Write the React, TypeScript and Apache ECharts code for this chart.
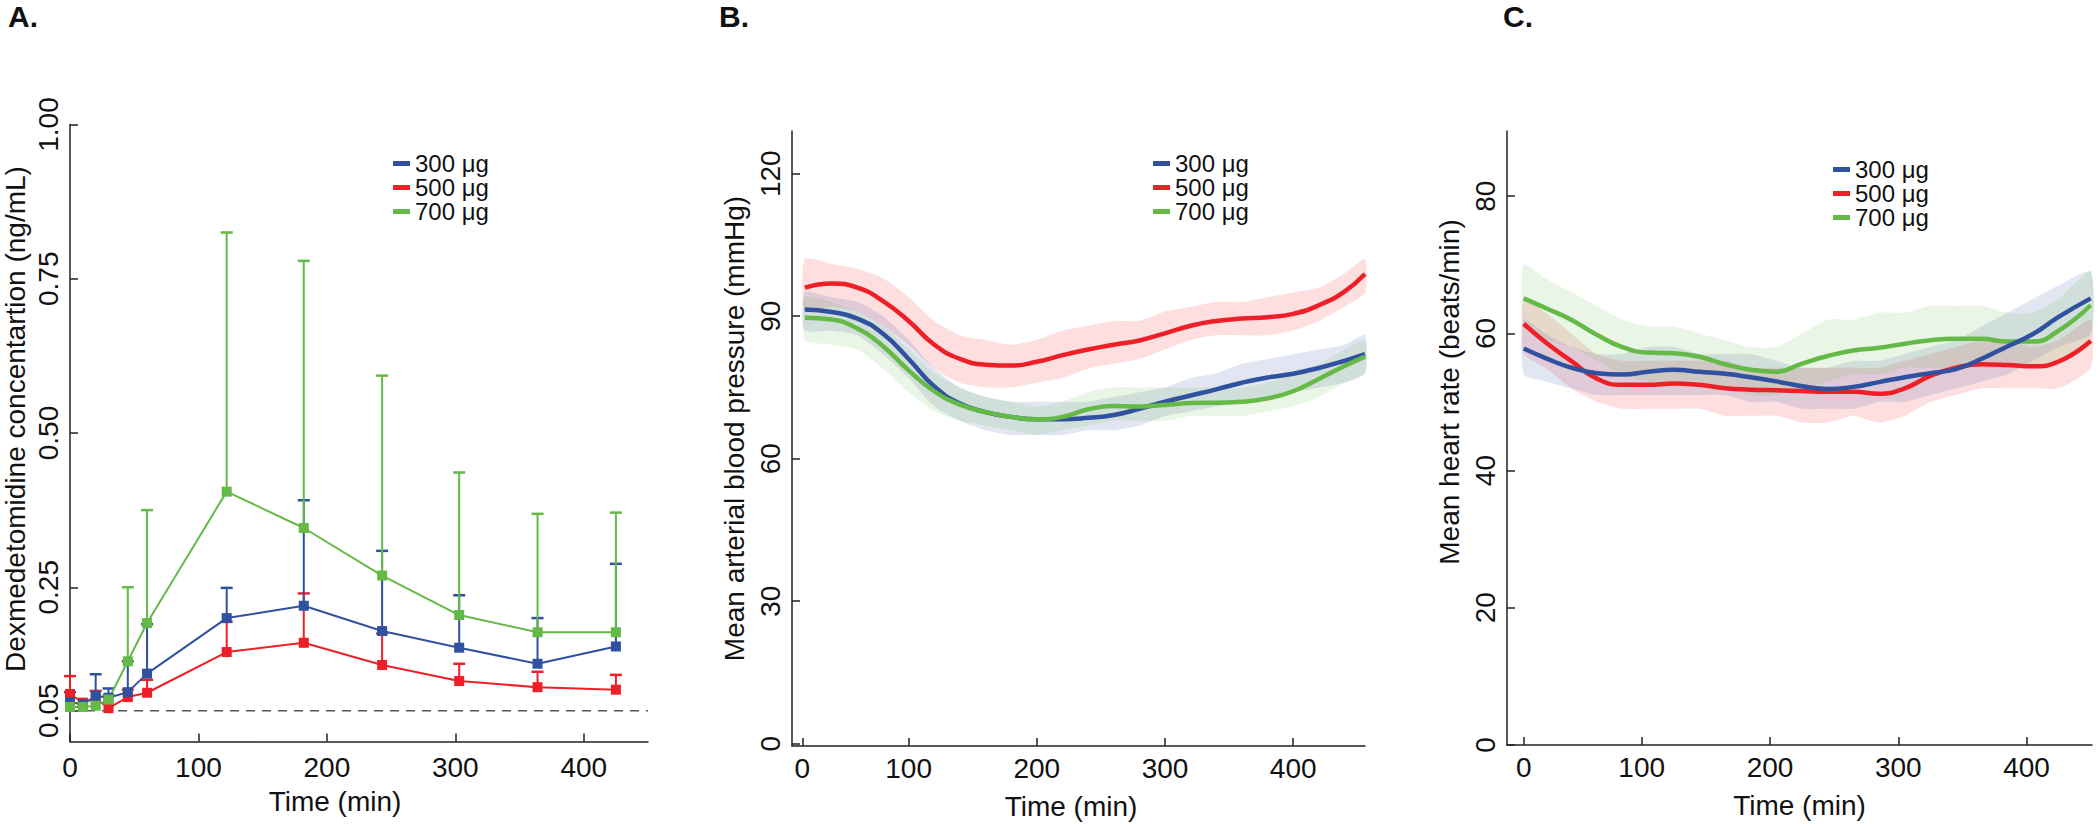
import React, { useEffect, useRef } from 'react';
import * as echarts from 'echarts';

const FONT = "'Liberation Sans', Arial, Helvetica, sans-serif";
const TEXT = '#111';
const AXIS = '#222';

const DOSES = ['300 μg', '500 μg', '700 μg'];
const DOSE_COLORS = ['#3050a0', '#ee1f26', '#65b946'];

// ---------- Panel A: plasma concentration (mean and upper SD) ----------
const TIMES_A = [0, 10, 20, 30, 45, 60, 122, 182, 243, 303, 364, 425];
const CONC_MEAN_300 = [0.064, 0.060, 0.074, 0.071, 0.080, 0.110, 0.200, 0.220, 0.179, 0.152, 0.126, 0.154];
const CONC_UPPER_300 = [0.080, 0.062, 0.109, 0.086, 0.130, 0.190, 0.249, 0.391, 0.309, 0.237, 0.200, 0.288];
const CONC_MEAN_500 = [0.077, 0.063, 0.070, 0.054, 0.072, 0.079, 0.145, 0.160, 0.124, 0.098, 0.088, 0.084];
const CONC_UPPER_500 = [0.106, 0.064, 0.082, 0.056, 0.084, 0.100, 0.194, 0.240, 0.175, 0.126, 0.113, 0.108];
const CONC_MEAN_700 = [0.056, 0.056, 0.058, 0.068, 0.130, 0.192, 0.405, 0.346, 0.269, 0.205, 0.177, 0.177];
const CONC_UPPER_700 = [0.057, 0.057, 0.060, 0.075, 0.250, 0.375, 0.825, 0.779, 0.593, 0.436, 0.369, 0.371];
const LLOQ = 0.05;
const A_Y_LABELS = [0.05, 0.25, 0.5, 0.75, 1.0];
const A_X_LABELS = [0, 100, 200, 300, 400];

// ---------- Panel B: mean arterial blood pressure ----------
const TIMES_B = [19, 40, 60, 80, 100, 120, 140, 160, 180, 200, 220, 240, 260, 280, 300, 320, 340, 360, 380, 400, 420, 440, 456];
const MAP_300 = [91.4, 90.9, 89.5, 86.3, 81.0, 75.2, 71.6, 69.8, 68.8, 68.3, 68.3, 68.6, 69.2, 70.5, 72.0, 73.3, 74.6, 76.0, 77.1, 77.9, 79.1, 80.6, 82.0];
const MAP_500 = [96.0, 96.9, 96.0, 93.2, 89.0, 84.0, 81.0, 79.8, 79.6, 80.4, 81.8, 83.0, 84.0, 84.9, 86.4, 88.0, 89.0, 89.5, 89.8, 90.5, 92.3, 95.2, 98.9];
const MAP_700 = [89.7, 89.3, 87.4, 83.7, 78.6, 74.2, 71.4, 69.8, 68.8, 68.3, 68.8, 70.4, 71.1, 71.0, 71.3, 71.7, 71.8, 72.0, 72.7, 74.2, 76.8, 79.5, 81.5];
const MAP_300_LO = [87, 87, 86, 82, 77, 71, 68, 66, 65, 65, 65, 66, 66, 67, 69, 70, 71, 72, 73, 74, 75, 76, 78];
const MAP_300_HI = [95, 94, 93, 90, 85, 79, 75, 73, 72, 72, 72, 72, 73, 74, 75, 77, 78, 80, 81, 82, 83, 84, 86];
const MAP_500_LO = [91, 92, 91, 88, 84, 79, 76, 75, 75, 76, 77, 79, 80, 81, 83, 85, 86, 86, 86, 87, 89, 92, 95];
const MAP_500_HI = [102, 101, 100, 98, 94, 89, 86, 85, 84, 85, 87, 88, 89, 89, 91, 92, 93, 93, 94, 95, 96, 99, 102];
const MAP_700_LO = [85, 84, 83, 79, 74, 70, 68, 67, 66, 65, 66, 67, 68, 68, 68, 69, 69, 69, 70, 71, 73, 76, 78];
const MAP_700_HI = [94, 93, 91, 88, 83, 78, 75, 73, 72, 71, 72, 74, 75, 75, 75, 75, 75, 75, 76, 78, 80, 83, 85];
const B_Y_LABELS = [0, 30, 60, 90, 120];
const B_X_TICK_POS = [17, 100, 200, 300, 400];

// ---------- Panel C: mean heart rate ----------
const TIMES_C = [8, 25, 45, 65, 85, 105, 125, 145, 165, 185, 205, 225, 245, 265, 285, 305, 325, 345, 365, 385, 405, 425, 450];
const HR_300 = [57.8, 56.4, 55.0, 54.2, 54.0, 54.4, 54.7, 54.4, 54.1, 53.6, 53.0, 52.3, 51.9, 52.2, 52.9, 53.6, 54.2, 54.8, 56.3, 58.1, 59.9, 62.4, 65.1];
const HR_500 = [61.4, 58.7, 56.0, 53.4, 52.5, 52.5, 52.7, 52.5, 52.0, 51.8, 51.7, 51.6, 51.5, 51.5, 51.2, 52.0, 53.8, 55.0, 55.5, 55.4, 55.2, 55.9, 58.9];
const HR_700 = [65.1, 63.7, 62.0, 59.8, 58.0, 57.2, 57.1, 56.6, 55.5, 54.7, 54.4, 55.6, 56.7, 57.5, 57.9, 58.5, 59.0, 59.2, 59.2, 58.8, 58.8, 60.4, 64.1];
const HR_300_LO = [54, 53, 52, 51, 51, 51, 51, 51, 51, 50, 50, 49, 49, 49, 50, 50, 51, 52, 53, 54, 56, 58, 60];
const HR_300_HI = [62, 60, 58, 57, 57, 58, 58, 57, 57, 57, 56, 55, 55, 56, 56, 57, 58, 59, 61, 63, 65, 67, 69];
const HR_500_LO = [57, 55, 52, 50, 49, 49, 49, 49, 48, 48, 48, 47, 47, 48, 47, 48, 50, 51, 52, 52, 52, 52, 55];
const HR_500_HI = [65, 63, 60, 57, 56, 56, 56, 56, 56, 55, 55, 55, 55, 55, 55, 56, 57, 58, 59, 59, 58, 59, 62];
const HR_700_LO = [61, 59, 58, 56, 54, 53, 53, 53, 52, 51, 51, 52, 53, 54, 54, 55, 55, 55, 55, 55, 55, 56, 59];
const HR_700_HI = [70, 68, 66, 64, 62, 61, 61, 60, 59, 58, 58, 60, 62, 62, 63, 63, 64, 64, 64, 63, 63, 65, 69];
const C_Y_LABELS = [0, 20, 40, 60, 80];
const C_X_TICK_POS = [8, 100, 200, 300, 400];

const X_TICK_TEXT = ['0', '100', '200', '300', '400'];

const pairs = (xs: number[], ys: number[]) => xs.map((x, i) => [x, ys[i]]);
const EMPTY = { type: 'group', children: [] };

function xAxisOf(gridIndex: number, min: number, max: number, tickPos: number[], margin: number, namePad: number[]) {
  return {
    type: 'value', gridIndex, min, max,
    name: 'Time (min)', nameLocation: 'middle', nameGap: 46,
    nameTextStyle: { fontSize: 28, color: TEXT, fontFamily: FONT, padding: namePad },
    axisLine: { show: true, onZero: false, lineStyle: { color: AXIS, width: 1.5 } },
    axisTick: { show: true, inside: true, length: 8, customValues: tickPos, lineStyle: { color: AXIS, width: 1.5 } },
    axisLabel: {
      customValues: tickPos, margin, fontSize: 28, color: TEXT, fontFamily: FONT,
      formatter: (v: number) => {
        const k = tickPos.indexOf(v);
        return k >= 0 ? X_TICK_TEXT[k] : String(v);
      },
    },
    splitLine: { show: false },
  };
}

function yAxisOf(gridIndex: number, min: number, max: number, labels: number[], name: string, nameGap: number, namePad: number[], fmt: (v: number) => string) {
  return {
    type: 'value', gridIndex, min, max,
    name, nameLocation: 'middle', nameGap,
    nameTextStyle: { fontSize: 28, color: TEXT, fontFamily: FONT, padding: namePad },
    axisLine: { show: true, onZero: false, lineStyle: { color: AXIS, width: 1.5 } },
    axisTick: { show: true, inside: true, length: 8, customValues: labels, lineStyle: { color: AXIS, width: 1.5 } },
    axisLabel: { customValues: labels, rotate: 90, margin: 8, fontSize: 28, color: TEXT, fontFamily: FONT, formatter: fmt },
    splitLine: { show: false },
  };
}

function legendAt(left: number, top: number) {
  return {
    data: DOSES, orient: 'vertical', left, top, padding: 0, itemGap: 0,
    itemWidth: 17, itemHeight: 5, icon: 'rect',
    textStyle: { fontSize: 24, lineHeight: 23, color: TEXT, fontFamily: FONT },
  };
}

function errorBars(color: string, means: number[], uppers: number[]) {
  return {
    type: 'custom', xAxisIndex: 0, yAxisIndex: 0, silent: true,
    data: TIMES_A.map((t, i) => [t, means[i], uppers[i]]),
    encode: { x: 0, y: [1, 2] },
    renderItem: (_p: any, api: any) => {
      const x = api.value(0), m = api.value(1), u = api.value(2);
      if (u - m < 0.004) return EMPTY;
      const p0 = api.coord([x, m]);
      const p1 = api.coord([x, u]);
      const hw = 6;
      return {
        type: 'group',
        children: [
          { type: 'line', shape: { x1: p0[0], y1: p0[1], x2: p1[0], y2: p1[1] }, style: { stroke: color, lineWidth: 2 } },
          { type: 'line', shape: { x1: p1[0] - hw, y1: p1[1], x2: p1[0] + hw, y2: p1[1] }, style: { stroke: color, lineWidth: 2.5 } },
        ],
      };
    },
  };
}

function concLine(k: number, means: number[]) {
  return {
    type: 'line', name: DOSES[k], xAxisIndex: 0, yAxisIndex: 0, clip: false,
    data: pairs(TIMES_A, means),
    symbol: 'rect', symbolSize: 10, showSymbol: true,
    itemStyle: { color: DOSE_COLORS[k] },
    lineStyle: { color: DOSE_COLORS[k], width: 2 },
  };
}

// translucent cloud of individual readings, drawn as one band per dose
function bandSeries(axis: number, k: number, times: number[], lo: number[], hi: number[]) {
  return {
    type: 'custom', xAxisIndex: axis, yAxisIndex: axis, silent: true, z: 1,
    data: times.map((t, i) => [t, lo[i], hi[i]]),
    encode: { x: 0, y: [1, 2] },
    renderItem: (params: any, api: any) => {
      if (params.dataIndex !== 0) return EMPTY;
      const top = times.map((t, i) => api.coord([t, hi[i]]));
      const bot = times.map((t, i) => api.coord([t, lo[i]])).reverse();
      return {
        type: 'polygon',
        shape: { points: top.concat(bot), smooth: 0.2 },
        style: { fill: DOSE_COLORS[k], opacity: 0.14 },
      };
    },
  };
}

function smoothLine(axis: number, k: number, times: number[], vals: number[]) {
  return {
    type: 'line', name: DOSES[k], xAxisIndex: axis, yAxisIndex: axis,
    data: pairs(times, vals), symbol: 'none', showSymbol: false, smooth: true,
    itemStyle: { color: DOSE_COLORS[k] },
    lineStyle: { color: DOSE_COLORS[k], width: 4.5 }, z: 3,
  };
}

function buildOption() {
  const fmt2 = (v: number) => v.toFixed(2);
  const fmt0 = (v: number) => String(v);
  const panelTitle = (text: string, left: number) => ({
    text, left, top: 1, padding: 0,
    textStyle: { fontSize: 30, fontWeight: 'bold', color: TEXT, fontFamily: FONT },
  });
  return {
    animation: false,
    backgroundColor: '#ffffff',
    title: [panelTitle('A.', 8), panelTitle('B.', 719), panelTitle('C.', 1503)],
    legend: [legendAt(393, 151.5), legendAt(1153, 151.5), legendAt(1833, 157.5)],
    grid: [
      { left: 70, top: 124.5, width: 578, height: 617, outerBoundsMode: 'none' },
      { left: 792, top: 131, width: 573, height: 615, outerBoundsMode: 'none' },
      { left: 1507, top: 131, width: 585, height: 614, outerBoundsMode: 'none' },
    ],
    xAxis: [
      xAxisOf(0, 0, 450, A_X_LABELS, 12, [0, 48, 0, 0]),
      xAxisOf(1, 9, 456, B_X_TICK_POS, 8, [0, 15, 0, 0]),
      xAxisOf(2, -5, 451, C_X_TICK_POS, 8, [0, 0, 0, 0]),
    ],
    yAxis: [
      yAxisOf(0, 0, 1, A_Y_LABELS, 'Dexmedetomidine concentartion (ng/mL)', 41, [0, 0, 0, 28], fmt2),
      yAxisOf(1, -0.5, 129, B_Y_LABELS, 'Mean arterial blood pressure (mmHg)', 44, [0, 0, 0, 20], fmt0),
      yAxisOf(2, 0, 89.5, C_Y_LABELS, 'Mean heart rate (beats/min)', 44, [0, 0, 0, 92], fmt0),
    ],
    series: [
      {
        type: 'line', name: 'LLOQ', xAxisIndex: 0, yAxisIndex: 0, silent: true,
        data: [[0, LLOQ], [450, LLOQ]], symbol: 'none',
        lineStyle: { color: '#555', width: 1.5, type: [9, 7] }, z: 1,
      },
      errorBars(DOSE_COLORS[1], CONC_MEAN_500, CONC_UPPER_500),
      concLine(1, CONC_MEAN_500),
      errorBars(DOSE_COLORS[0], CONC_MEAN_300, CONC_UPPER_300),
      concLine(0, CONC_MEAN_300),
      errorBars(DOSE_COLORS[2], CONC_MEAN_700, CONC_UPPER_700),
      concLine(2, CONC_MEAN_700),

      bandSeries(1, 1, TIMES_B, MAP_500_LO, MAP_500_HI),
      bandSeries(1, 0, TIMES_B, MAP_300_LO, MAP_300_HI),
      bandSeries(1, 2, TIMES_B, MAP_700_LO, MAP_700_HI),
      smoothLine(1, 1, TIMES_B, MAP_500),
      smoothLine(1, 0, TIMES_B, MAP_300),
      smoothLine(1, 2, TIMES_B, MAP_700),

      bandSeries(2, 1, TIMES_C, HR_500_LO, HR_500_HI),
      bandSeries(2, 0, TIMES_C, HR_300_LO, HR_300_HI),
      bandSeries(2, 2, TIMES_C, HR_700_LO, HR_700_HI),
      smoothLine(2, 1, TIMES_C, HR_500),
      smoothLine(2, 2, TIMES_C, HR_700),
      smoothLine(2, 0, TIMES_C, HR_300),
    ],
  };
}

export default function App() {
  const ref = useRef<HTMLDivElement>(null);
  useEffect(() => {
    if (!ref.current) return;
    const chart = echarts.init(ref.current, null, { renderer: 'svg' });
    chart.setOption(buildOption() as any);
    return () => chart.dispose();
  }, []);
  return (
    <div
      ref={ref}
      style={{ position: 'absolute', left: 0, top: 0, width: 2100, height: 824, background: '#ffffff' }}
    />
  );
}
